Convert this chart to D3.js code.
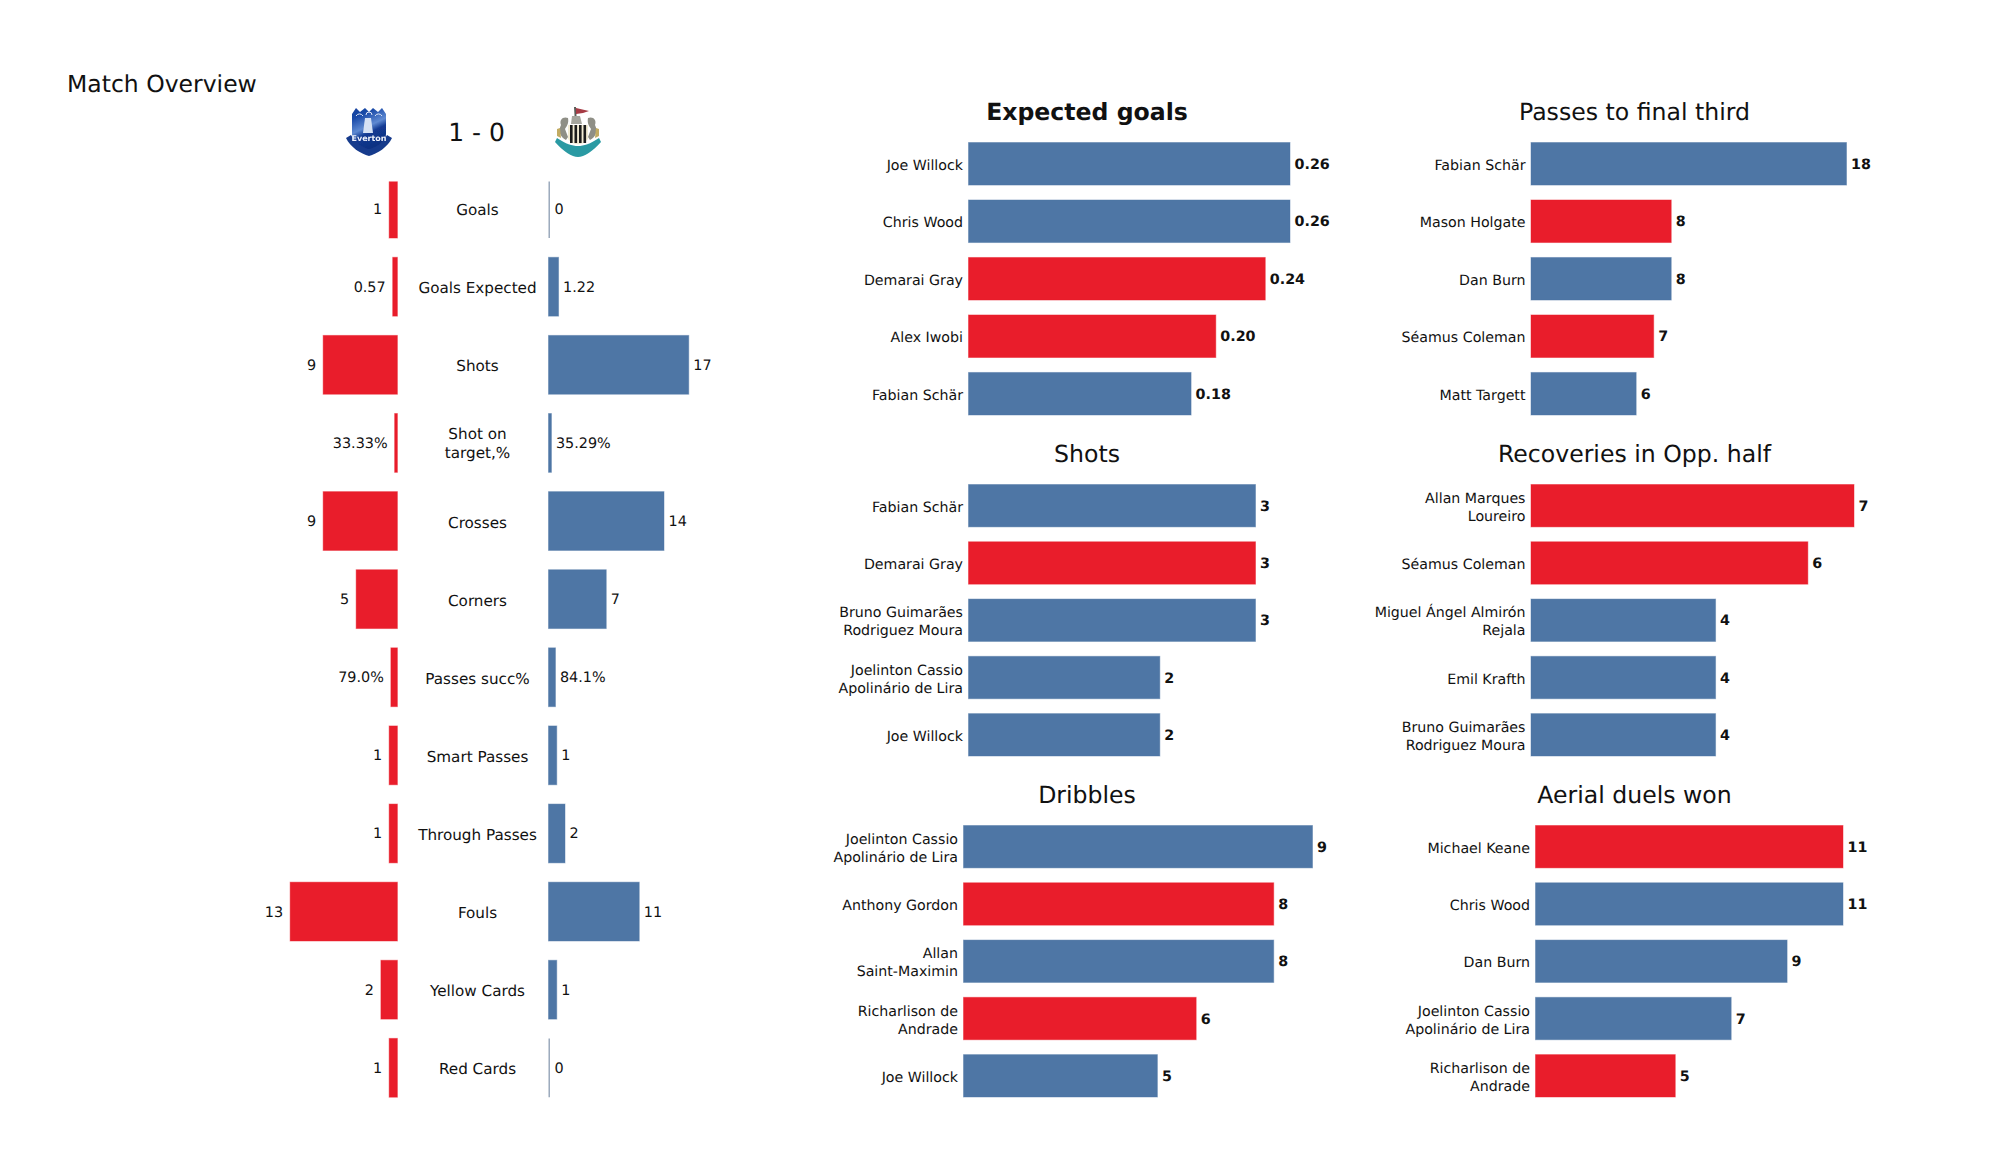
<!DOCTYPE html>
<html><head><meta charset="utf-8">
<script src="https://cdn.jsdelivr.net/npm/d3@7"></script>
<style>
html,body{margin:0;padding:0;background:#fff}
svg{display:block}
text{font-family:"DejaVu Sans",sans-serif;fill:#111;text-rendering:geometricPrecision}
</style></head><body><svg id="c" width="2000" height="1175"></svg>
<script>
const RED="#e91d2b", BLUE="#4e76a5";
const statLabels=["Goals","Goals Expected","Shots","Shot on\ntarget,%","Crosses","Corners","Passes succ%","Smart Passes","Through Passes","Fouls","Yellow Cards","Red Cards"];
const homeValues=[1,0.57,9,0.3333,9,5,0.79,1,1,13,2,1];
const awayValues=[0,1.22,17,0.3529,14,7,0.841,1,2,11,1,0];
const homeText=["1","0.57","9","33.33%","9","5","79.0%","1","1","13","2","1"];
const awayText=["0","1.22","17","35.29%","14","7","84.1%","1","2","11","1","0"];

const xgNames=["Joe Willock","Chris Wood","Demarai Gray","Alex Iwobi","Fabian Schär"];
const xgValues=[0.26,0.26,0.24,0.20,0.18];
const xgTeams=["a","a","h","h","a"];
const finalNames=["Fabian Schär","Mason Holgate","Dan Burn","Séamus Coleman","Matt Targett"];
const finalValues=[18,8,8,7,6];
const finalTeams=["a","h","a","h","a"];
const shotNames=["Fabian Schär","Demarai Gray","Bruno Guimarães\nRodriguez Moura","Joelinton Cassio\nApolinário de Lira","Joe Willock"];
const shotValues=[3,3,3,2,2];
const shotTeams=["a","h","a","a","a"];
const recNames=["Allan Marques\nLoureiro","Séamus Coleman","Miguel Ángel Almirón\nRejala","Emil Krafth","Bruno Guimarães\nRodriguez Moura"];
const recValues=[7,6,4,4,4];
const recTeams=["h","h","a","a","a"];
const dribNames=["Joelinton Cassio\nApolinário de Lira","Anthony Gordon","Allan\nSaint-Maximin","Richarlison de\nAndrade","Joe Willock"];
const dribValues=[9,8,8,6,5];
const dribTeams=["a","h","a","h","a"];
const aerialNames=["Michael Keane","Chris Wood","Dan Burn","Joelinton Cassio\nApolinário de Lira","Richarlison de\nAndrade"];
const aerialValues=[11,11,9,7,5];
const aerialTeams=["h","a","a","a","h"];

const svg=d3.select("#c");
const defs=svg.append("defs");
function multi(g,x,y,str,size,anchor,lh){
  const lines=str.split("\n");
  const t=g.append("text").attr("text-anchor",anchor).attr("font-size",size);
  lines.forEach((l,i)=>t.append("tspan").attr("x",x).attr("y",y+(i-(lines.length-1)/2)*lh+size*0.36).text(l));
  return t;
}
svg.append("text").attr("x",67).attr("y",92).attr("font-size",23.5).text("Match Overview");
svg.append("text").attr("x",476.5).attr("y",140.5).attr("text-anchor","middle").attr("font-size",25).text("1 - 0");

// Overview: mirrored bars; the axes clip the top of the first row
defs.append("clipPath").attr("id","ovclip").append("rect").attr("x",200).attr("y",181.6).attr("width",600).attr("height",930);
const ov=svg.append("g");
const ovBars=ov.append("g").attr("clip-path","url(#ovclip)");
const y0=d3.scaleBand().domain(d3.range(statLabels.length)).range([179.2,1097.2]).paddingInner(0.247);
const unit=8.25;
const xL=d3.scaleLinear().domain([0,1]).range([397.4,397.4-unit]);
const xR=d3.scaleLinear().domain([0,1]).range([548.5,548.5+unit]);
statLabels.forEach((s,i)=>{
  const y=y0(i),h=y0.bandwidth(),c=y+h/2;
  ovBars.append("rect").attr("x",xL(homeValues[i])).attr("y",y).attr("width",xL(0)-xL(homeValues[i])).attr("height",h).attr("fill",RED).attr("stroke",RED).attr("stroke-opacity",.45);
  if(awayValues[i]===0){
    ovBars.append("line").attr("x1",xR(0)+0.7).attr("x2",xR(0)+0.7).attr("y1",y).attr("y2",y+h).attr("stroke","#8c9cb2").attr("stroke-width",1.3);
  } else {
    ovBars.append("rect").attr("x",xR(0)).attr("y",y).attr("width",xR(awayValues[i])-xR(0)).attr("height",h).attr("fill",BLUE).attr("stroke",BLUE).attr("stroke-opacity",.45);
  }
  ov.append("text").attr("x",xL(homeValues[i])-7).attr("y",c+5).attr("text-anchor","end").attr("font-size",14.4).text(homeText[i]);
  ov.append("text").attr("x",xR(awayValues[i])+(awayValues[i]===0?6:4.5)).attr("y",c+5).attr("font-size",14.4).text(awayText[i]);
  multi(ov,477.5,c+(s.includes("\n")?0.2:1.2),s,15.2,"middle",18.7);
});

// Ranked panels
function panel(title,names,values,teams,o){
  const g=svg.append("g");
  const x=d3.scaleLinear().domain([0,o.max]).range([o.left,o.right]);
  const y=d3.scaleBand().domain(d3.range(names.length)).range([o.top,o.bottom]).paddingInner(0.26);
  g.append("text").attr("x",o.cx).attr("y",o.titleY).attr("text-anchor","middle").attr("font-size",23.6).attr("font-weight",o.bold?"bold":"normal").text(title);
  names.forEach((n,i)=>{
    const col=teams[i]==="h"?RED:BLUE,c=y(i)+y.bandwidth()/2;
    g.append("rect").attr("x",x(0)).attr("y",y(i)).attr("width",x(values[i])-x(0)).attr("height",y.bandwidth()).attr("fill",col).attr("stroke",col).attr("stroke-opacity",.45);
    multi(g,x(0)-5.5,c+1,n,14.2,"end",17.8);
    g.append("text").attr("x",x(values[i])+4.5).attr("y",c+5).attr("font-size",14.3).attr("font-weight","bold").text(o.fmt?d3.format(o.fmt)(values[i]):values[i]);
  });
}
const row1={top:142.5,bottom:415,titleY:119.5},row2={top:484.5,bottom:756,titleY:461.5},row3={top:825.5,bottom:1097,titleY:802.5};
panel("Expected goals",xgNames,xgValues,xgTeams,{...row1,left:968.5,right:1290,max:0.26,cx:1087,bold:true,fmt:".2f"});
panel("Passes to final third",finalNames,finalValues,finalTeams,{...row1,left:1531,right:1846.5,max:18,cx:1634.5});
panel("Shots",shotNames,shotValues,shotTeams,{...row2,left:968.5,right:1255.5,max:3,cx:1087});
panel("Recoveries in Opp. half",recNames,recValues,recTeams,{...row2,left:1531,right:1854,max:7,cx:1634.5});
panel("Dribbles",dribNames,dribValues,dribTeams,{...row3,left:963.5,right:1312.5,max:9,cx:1087});
panel("Aerial duels won",aerialNames,aerialValues,aerialTeams,{...row3,left:1535.5,right:1843,max:11,cx:1634.5});

// Crests (simplified)
defs.append("filter").attr("id","soft").append("feGaussianBlur").attr("stdDeviation",0.5);
const grad=defs.append("linearGradient").attr("id","evg").attr("x1",0).attr("y1",0).attr("x2",0.35).attr("y2",1);
grad.append("stop").attr("offset","0").attr("stop-color","#143f9c");
grad.append("stop").attr("offset",".22").attr("stop-color","#1a4aa8");
grad.append("stop").attr("offset",".5").attr("stop-color","#5f8ad2");
grad.append("stop").attr("offset",".64").attr("stop-color","#123a92");
grad.append("stop").attr("offset","1").attr("stop-color","#10307f");
const ev=svg.append("g").attr("transform","translate(369,131)").attr("filter","url(#soft)");
ev.append("path").attr("d","M-17,-17 L-13,-23 L-9,-19 L-4,-23 L0,-19 L4,-23 L9,-19 L13,-23 L17,-17 L17,3 C17,12 8,17 0,23 C-8,17 -17,12 -17,3 Z").attr("fill","url(#evg)");
ev.append("path").attr("d","M-23,7 C-19,16 -8,23 0,25 C8,23 19,16 23,7 L18,4 C14,12 6,17 0,18 C-6,17 -14,12 -18,4 Z").attr("fill","#163a8c");
ev.append("path").attr("d","M-4,-13 L2,-13 L4,2 L-6,2 Z").attr("fill","#d5e1f4");
ev.append("path").attr("d","M-13,-15 a4,4 0 0 1 7,0 M-3,-16 a3,3 0 0 1 6,0 M6,-15 a4,4 0 0 1 7,0").attr("fill","none").attr("stroke","#dfe8f7").attr("stroke-width",1);
ev.append("text").attr("x",0).attr("y",10).attr("text-anchor","middle").attr("font-size",8).attr("font-weight","bold").style("fill","#eef2fc").text("Everton");
const nc=svg.append("g").attr("transform","translate(578,131)").attr("filter","url(#soft)");
nc.append("path").attr("d","M-23,11 C-15,20 -6,26 0,26 C6,26 15,20 23,11 L21,7 C12,13 6,15 0,15 C-6,15 -12,13 -21,7 Z").attr("fill","#2a9aa3");
nc.append("path").attr("d","M-10,-6 L10,-6 L10,8 C5,15 -5,15 -10,8 Z").attr("fill","#f3ecd4");
[-8,-3.5,1,5.5].forEach(x=>nc.append("rect").attr("x",x).attr("y",-6).attr("width",2.6).attr("height",18).attr("fill","#1a1a1a"));
nc.append("path").attr("d","M-10,-13 C-15,-15 -19,-11 -17,-6 C-20,0 -18,6 -12,9 L-10,6 L-13,-2 C-11,-5 -9,-8 -10,-13 Z").attr("fill","#8f8f86");
nc.append("path").attr("d","M10,-13 C15,-15 19,-11 17,-6 C20,0 18,6 12,9 L10,6 L13,-2 C11,-5 9,-8 10,-13 Z").attr("fill","#8f8f86");
nc.append("path").attr("d","M-21,-2 L-18,-3 L-17,7 L-21,5 Z M21,-2 L18,-3 L17,7 L21,5 Z").attr("fill","#c2ab62");
nc.append("path").attr("d","M-4,-24 L-2,-24 L-1,-7 L-3,-7 Z").attr("fill","#5c5c58");
nc.append("path").attr("d","M-2,-23 L11,-20 L5,-18 L-2,-17 Z").attr("fill","#a63a44");
nc.append("path").attr("d","M-6,-15 L2,-15 L4,-7 L-7,-7 Z").attr("fill","#a5a59d");
</script></body></html>
